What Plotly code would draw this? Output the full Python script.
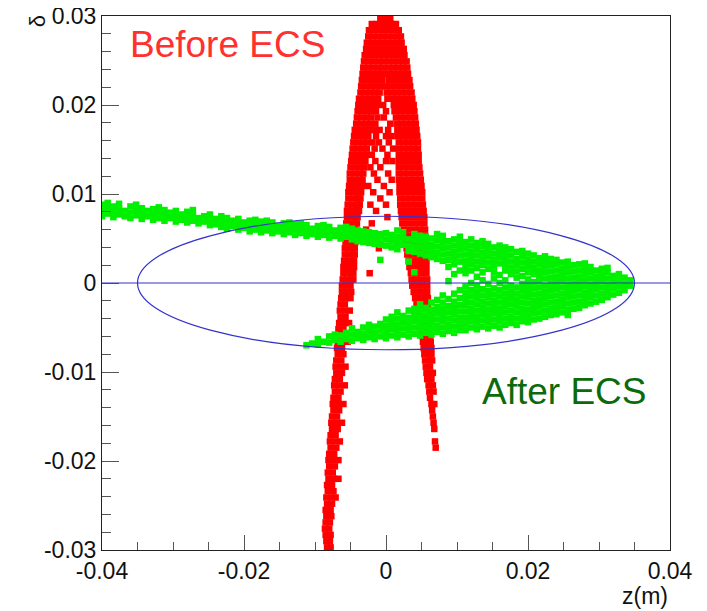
import plotly.graph_objects as go

# ---------------- data (z and delta in units of 1e-4) ----------------
UNIT = 1e-4

# Red "Before ECS": rows of constant delta, listing z positions of the points in each row
red_delta_rows = [
    298, 291, 284, 277, 270, 263, 256, 249, 242, 235, 228, 221, 214, 207, 200,
    193, 186, 179, 172, 165, 158, 151, 144, 137, 130, 123, 116, 109, 102, 95,
    88, 81, 74, 67, 60, 53, 46, 39, 32, 25, 18, 11, 4, -3, -10, -17, -24, -31,
    -38, -45, -52, -59, -66, -73, -80, -87, -94, -101, -108, -115, -122, -129,
    -136, -143, -150, -157, -164, -171, -178, -185, -192, -199, -206, -213,
    -220, -227, -234, -241, -248, -255, -262, -269, -276, -283, -290, -297,
]
red_z_rows = [
    [-8, -1, 6],
    [-20, -13, -6, 1, 8, 14],
    [-24, -17, -10, -3, 4, 11, 18],
    [-25, -18, -11, -4, 3, 10, 17, 21],
    [-27, -20, -13, -6, 1, 8, 15, 22],
    [-28, -21, -14, -7, 0, 7, 14, 20, 25],
    [-30, -23, -16, -9, -2, 5, 12, 19, 26],
    [-31, -24, -17, -10, -3, 4, 11, 18, 24, 29],
    [-32, -25, -18, -11, -5, 3, 10, 17, 24, 30],
    [-33, -26, -19, -12, -6, 2, 9, 16, 23, 31],
    [-34, -27, -20, -13, -5, 4, 11, 18, 25, 33],
    [-35, -28, -21, -14, -8, -1, 6, 13, 20, 27, 34],
    [-36, -29, -22, -15, -9, 1, 8, 15, 22, 29, 36],
    [-38, -31, -24, -17, -11, 2, 10, 16, 23, 30, 37],
    [-39, -32, -25, -19, -13, -4, 11, 18, 25, 32, 39],
    [-40, -33, -26, -20, -14, 0, 12, 19, 26, 33, 40],
    [-41, -34, -27, -21, -12, -3, 14, 21, 28, 35, 41],
    [-42, -35, -28, -22, -15, 6, 15, 22, 29, 36, 42],
    [-44, -37, -30, -24, -17, -9, 3, 16, 23, 30, 37, 43],
    [-45, -38, -31, -25, -14, 0, 8, 17, 24, 31, 38, 44],
    [-46, -39, -32, -26, -19, -10, 4, 18, 25, 32, 39, 45],
    [-47, -40, -33, -27, -16, -5, 10, 18, 25, 32, 39, 45],
    [-48, -41, -34, -28, -20, 2, 18, 25, 32, 39, 46],
    [-49, -42, -35, -29, -15, 0, 9, 18, 25, 32, 39, 46],
    [-50, -43, -36, -31, -22, -8, 18, 25, 32, 39, 47],
    [-51, -44, -37, -32, -17, 3, 18, 25, 32, 40, 48],
    [-51, -44, -37, -33, -12, 8, 18, 26, 33, 41, 49],
    [-52, -45, -38, -34, -25, -3, 19, 26, 34, 42, 50],
    [-53, -46, -39, -35, -18, 5, 19, 27, 35, 43, 51],
    [-53, -46, -40, -36, -8, 20, 27, 35, 43, 51],
    [-54, -47, -41, -37, -22, 0, 20, 28, 36, 44, 52],
    [-55, -48, -42, -38, -14, 21, 29, 37, 45, 53],
    [-55, -49, -43, -40, 2, 22, 30, 38, 46, 54],
    [-56, -50, -44, -41, -20, 23, 31, 39, 47, 54],
    [-56, -50, -45, -42, -28, 25, 32, 40, 48, 55],
    [-57, -51, -46, -43, 26, 33, 41, 49, 55],
    [-57, -52, -46, -43, -12, 27, 34, 42, 50, 56],
    [-58, -52, -47, -44, -10, 29, 36, 43, 50, 56],
    [-58, -53, -47, -44, 30, 37, 44, 51, 56],
    [-59, -53, -48, -45, 32, 39, 46, 52, 57],
    [-60, -54, -48, -45, 33, 40, 47, 53, 57],
    [-60, -54, -49, -46, -23, 35, 42, 49, 57],
    [-61, -55, -49, -46, 36, 43, 50, 58],
    [-62, -56, -50, 37, 44, 51, 58],
    [-62, -55, -49, 39, 46, 53, 58],
    [-63, -57, -50, 41, 48, 54, 59],
    [-64, -58, 43, 50, 56, 59],
    [-65, -58, -51, 45, 51, 57, 60],
    [-64, -57, 47, 53, 60],
    [-66, -59, -52, 48, 54, 61],
    [-67, -60, 49, 55, 61],
    [-66, -58, 51, 57, 62],
    [-68, -61, -54, 52, 58, 63],
    [-69, -62, 53, 59, 64],
    [-68, -60, 54, 60, 64],
    [-70, -63, 55, 61, 65],
    [-71, -64, -57, 56, 62],
    [-70, -62, 57, 63, 66],
    [-72, -65, 58, 64],
    [-73, -66, -58, 60, 66],
    [-72, -64, 61, 67],
    [-74, -67, 62],
    [-75, -68, -60, 64, 68],
    [-74, -66, 65],
    [-76, -69, 66],
    [-77, -70, -62, 67],
    [-76, -68, 68],
    [-78, -71],
    [-79, -72, -65, 69],
    [-78, -70, 70],
    [-80, -73],
    [-81, -74, -67],
    [-80, -72],
    [-82, -75],
    [-81, -73, -67],
    [-83, -76],
    [-82, -74],
    [-84, -77, -71],
    [-83, -76],
    [-85, -78],
    [-84, -77],
    [-85, -79],
    [-86, -80],
    [-85, -78],
    [-84, -79],
    [-83, -78],
]

# Green "After ECS": columns of constant z, listing delta positions of the points in each column
green_z_cols = [
    # tail
    -400, -392, -384, -376, -368, -360, -352, -344, -336, -328, -320, -312,
    -304, -296, -288, -280, -272, -264, -256, -248, -240, -232, -224, -216,
    -208, -200, -192, -184, -176, -168, -160, -152, -144, -136, -128, -120,
    -112, -104, -96, -88, -80, -72, -64, -56, -48, -40, -32, -24, -16, -8,
    # lower band
    -112, -104, -96, -88, -80, -72, -64, -56, -48, -40, -32, -24, -16, -8,
    0, 8, 16, 24, 32, 40, 48, 56, 64, 72, 80, 88, 96, 104,
    # upper band
    0, 8, 16, 24, 32, 40, 48, 56, 64, 72, 80, 88, 96, 104,
    # fan
    112, 120, 128, 136, 144, 152, 160, 168, 176, 184, 192, 200, 208, 216,
    224, 232, 240, 248, 256, 264, 272, 280, 288, 296, 304, 312, 320, 328,
    336, 344,
]
green_delta_cols = [
    # tail
    [75, 81, 88], [78, 84, 90], [74, 80, 86], [77, 83, 89], [75, 81],
    [73, 79, 86], [76, 82, 88], [72, 78, 84], [75, 81], [71, 77, 83],
    [73, 79, 85], [70, 76, 82], [73, 79], [69, 75, 81], [71, 77],
    [68, 74, 80], [70, 76, 82], [67, 73], [69, 75], [65, 71, 77], [66, 72],
    [63, 69, 75], [61, 67, 73], [64, 70], [60, 66, 72], [62, 68],
    [58, 64, 70], [60, 66, 71], [57, 63, 69], [59, 65, 70], [56, 62, 68],
    [58, 64], [55, 61, 67], [57, 63, 68], [54, 60, 66], [56, 62, 67],
    [53, 59, 65], [55, 61], [52, 58, 64], [54, 60, 65], [51, 57, 63],
    [53, 59], [50, 56, 62], [52, 58, 63], [49, 55, 61], [47, 53, 59],
    [46, 52, 58], [45, 51, 57], [44, 50, 56], [43, 49, 55, 26],
    # lower band
    [-70], [-68], [-69, -63], [-66], [-67, -60], [-64, -58], [-66, -59],
    [-63, -56], [-65, -58, -51], [-62, -55], [-64, -57, -50],
    [-61, -54, -47], [-63, -56, -49], [-60, -53, -46],
    [-62, -55, -48, -41], [-59, -52, -45, -38], [-61, -54, -47, -40, -33],
    [-58, -51, -44, -37], [-60, -53, -46, -39, -31],
    [-57, -50, -43, -36, -29], [-59, -52, -45, -38, -31, -24],
    [-56, -49, -42, -35, -28], [-58, -51, -44, -37, -30, -22],
    [-55, -48, -41, -34, -27, -19], [-57, -50, -43, -36, -29, -22, -14],
    [-54, -47, -40, -33, -26, -18], [-56, -49, -42, -35, -28, -21, -12],
    [-53, -46, -39, -32, -25, -17, -8],
    # upper band
    [42, 49, 56], [40, 47, 54], [38, 45, 52, 59], [43, 50, 57],
    [36, 42, 49, 24], [35, 41, 48, 55, 12], [33, 40, 47, 53],
    [31, 38, 45, 52], [29, 36, 43, 50], [27, 34, 41, 48, 55],
    [25, 32, 39, 46, 53], [2, 18, 26, 33, 40, 47], [10, 21, 28, 35, 42, 49],
    [14, 24, 31, 38, 45, 52],
    # fan
    [-53, -46, -39, -32, -25, -18, -11, -4, 11, 18, 25, 32, 39, 46],
    [-50, -43, -36, -29, -22, -15, -8, 0, 14, 21, 28, 35, 42, 49],
    [-52, -45, -38, -31, -24, -17, -10, -3, 7, 17, 24, 31, 38, 45],
    [-49, -42, -35, -28, -21, -14, -7, 3, 12, 20, 27, 34, 41, 47],
    [-51, -44, -37, -30, -23, -16, -9, -1, 16, 23, 30, 37, 44],
    [-48, -41, -34, -27, -20, -13, -6, 5, 12, 19, 26, 33, 40],
    [-50, -43, -36, -29, -22, -15, -8, 0, 9, 22, 29, 36, 42],
    [-47, -40, -33, -26, -19, -12, -5, 3, 14, 20, 27, 34, 40],
    [-45, -38, -31, -24, -17, -10, -3, 10, 17, 24, 31, 38],
    [-47, -40, -33, -26, -19, -12, -5, 6, 13, 20, 27, 35],
    [-43, -36, -29, -22, -15, -8, -1, 8, 16, 23, 30, 36],
    [-44, -37, -30, -23, -16, -9, -2, 4, 12, 19, 26, 33],
    [-41, -34, -27, -20, -13, -6, 1, 10, 17, 24, 31],
    [-40, -33, -26, -19, -12, -5, 2, 8, 14, 21, 28],
    [-38, -31, -24, -17, -10, -3, 5, 12, 19, 26, 30],
    [-36, -29, -22, -15, -8, -1, 6, 13, 20, 27],
    [-35, -28, -21, -14, -7, 0, 7, 14, 21, 26],
    [-33, -26, -19, -12, -5, 2, 9, 16, 23],
    [-36, -30, -23, -16, -9, -2, 5, 12, 19, 24],
    [-29, -22, -15, -8, -1, 6, 13, 20],
    [-28, -21, -14, -7, 0, 7, 14, 21],
    [-25, -18, -11, -4, 3, 10, 17, 22],
    [-23, -16, -9, -2, 5, 12, 18],
    [-21, -14, -7, 0, 7, 14],
    [-19, -12, -5, 2, 9, 16],
    [-16, -9, -2, 5, 12, 17],
    [-13, -6, 1, 8],
    [-11, -4, 3, 10],
    [-8, -1, 6],
    [-3, 3],
]

# reference ellipse half-axes, axis ranges and tick labels
ellipse_z_half = 0.035
ellipse_delta_half = 0.0075
x_range = [-0.04, 0.04]
y_range = [-0.03, 0.03]
x_tick_vals = [-0.04, -0.02, 0.0, 0.02, 0.04]
x_tick_labels = ["-0.04", "-0.02", "0", "0.02", "0.04"]
y_tick_vals = [-0.03, -0.02, -0.01, 0.0, 0.01, 0.02, 0.03]
y_tick_labels = ["-0.03", "-0.02", "-0.01", "0", "0.01", "0.02", "0.03"]

# ---------------- build point lists ----------------
red_z, red_d = [], []
for d, zs in zip(red_delta_rows, red_z_rows):
    for z in zs:
        red_z.append(z * UNIT)
        red_d.append(d * UNIT)

green_z, green_d = [], []
for z, ds in zip(green_z_cols, green_delta_cols):
    for d in ds:
        green_z.append(z * UNIT)
        green_d.append(d * UNIT)

FONT = "Liberation Sans, Arial, Helvetica, sans-serif"
MARKER_SIZE = 6.5

fig = go.Figure()
fig.add_trace(go.Scatter(
    x=red_z, y=red_d, mode="markers", name="Before ECS",
    marker=dict(symbol="square", size=MARKER_SIZE, color="#ff0000", line=dict(width=0)),
))
fig.add_trace(go.Scatter(
    x=green_z, y=green_d, mode="markers", name="After ECS",
    marker=dict(symbol="square", size=MARKER_SIZE, color="#00f000", line=dict(width=0)),
))

fig.add_shape(type="circle", xref="x", yref="y",
              x0=-ellipse_z_half, x1=ellipse_z_half,
              y0=-ellipse_delta_half, y1=ellipse_delta_half,
              line=dict(color="#3333cc", width=1.2), layer="above")
fig.add_shape(type="line", xref="x", yref="y",
              x0=x_range[0], x1=x_range[1], y0=0, y1=0,
              line=dict(color="#3333cc", width=1.2), layer="above")

axis_common = dict(
    showgrid=False, zeroline=False, showline=True, linecolor="#222222",
    linewidth=1, mirror=True, ticks="inside", tickcolor="#555555",
    tickwidth=1, tickfont=dict(family=FONT, size=23, color="#111111"),
    tickmode="array", automargin=False, ticklabeloverflow="allow",
)
fig.update_xaxes(range=x_range, tickvals=x_tick_vals, ticktext=x_tick_labels,
                 ticklen=15,
                 minor=dict(tickmode="linear", tick0=-0.04, dtick=0.005,
                            ticks="inside", ticklen=8, tickcolor="#555555"),
                 **axis_common)
fig.update_yaxes(range=y_range, tickvals=y_tick_vals, ticktext=y_tick_labels,
                 ticklen=17,
                 minor=dict(tickmode="linear", tick0=-0.03, dtick=0.002,
                            ticks="inside", ticklen=9, tickcolor="#555555"),
                 **axis_common)

fig.add_annotation(text="Before ECS", xref="paper", yref="paper",
                   x=0.046, y=0.946, xanchor="left", yanchor="middle",
                   showarrow=False, font=dict(family=FONT, size=37, color="#ff3030"))
fig.add_annotation(text="After ECS", xref="paper", yref="paper",
                   x=0.665, y=0.296, xanchor="left", yanchor="middle",
                   showarrow=False, font=dict(family=FONT, size=37, color="#0b6b0b"))
fig.add_annotation(text="δ", xref="paper", yref="paper",
                   x=-0.113, y=0.99, xanchor="center", yanchor="middle",
                   textangle=-90, showarrow=False,
                   font=dict(family=FONT, size=22, color="#111111"))
fig.add_annotation(text="z(m)", xref="paper", yref="paper",
                   x=1.0, y=-0.086, xanchor="right", yanchor="middle",
                   showarrow=False, font=dict(family=FONT, size=23, color="#111111"))

# the page body adds an 8 px offset, so the figure is 8 px smaller on each axis
fig.update_layout(
    width=699, height=603,
    margin=dict(l=94, r=37, t=8, b=61),
    paper_bgcolor="white", plot_bgcolor="white",
    showlegend=False,
)

fig.write_html("out.html")
